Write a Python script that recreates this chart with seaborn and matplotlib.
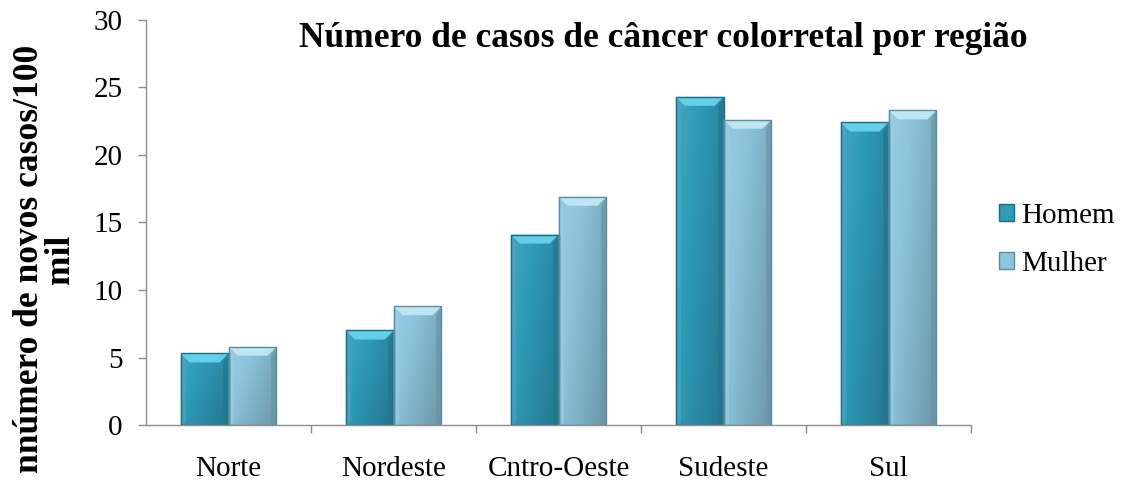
import numpy as np
import pandas as pd
import matplotlib
matplotlib.use("Agg")
import matplotlib.pyplot as plt
from matplotlib.patches import Polygon, Patch
from matplotlib.colors import to_rgb
import seaborn as sns

# Dados: casos novos de câncer colorretal por 100 mil habitantes
regioes = ["Norte", "Nordeste", "Cntro-Oeste", "Sudeste", "Sul"]
homem = [5.3, 7.0, 14.1, 24.3, 22.4]
mulher = [5.8, 8.8, 16.9, 22.6, 23.3]
series = ["Homem", "Mulher"]
y_ticks = [0, 5, 10, 15, 20, 25, 30]

df = pd.DataFrame({
    "regiao": regioes * 2,
    "sexo": ["Homem"] * len(regioes) + ["Mulher"] * len(regioes),
    "valor": homem + mulher,
})

cores = {"Homem": "#2F9CBA", "Mulher": "#8CC6DC"}
bisel = {"Homem": "#63CFE8", "Mulher": "#BDE6F2"}
bordas = {"Homem": "#1F6A7E", "Mulher": "#5F8C9C"}

sns.set_theme(style="white")
plt.rcParams["font.family"] = ["Liberation Serif", "DejaVu Serif"]
plt.rcParams["text.color"] = "black"
plt.rcParams["xtick.labelcolor"] = "black"
plt.rcParams["ytick.labelcolor"] = "black"

fig = plt.figure(figsize=(11.24, 4.83), dpi=100)
ax = fig.add_axes([0.130, 0.120, 0.734, 0.839])

sns.barplot(data=df, x="regiao", y="valor", hue="sexo", order=regioes,
            hue_order=series, palette=cores, width=0.58, saturation=1,
            edgecolor="none", linewidth=0, legend=False, ax=ax)

ax.set_xlim(-0.5, len(regioes) - 0.5)
ax.set_ylim(0, 30)
fig.canvas.draw()

# pixel -> unidades de dados
inv = ax.transData.inverted()
p0 = inv.transform((0, 0))
p1 = inv.transform((1, 1))
dx_px = p1[0] - p0[0]
dy_px = p1[1] - p0[1]


def shade(c, f):
    r = np.array(to_rgb(c))
    if f >= 0:
        return tuple(r + (1 - r) * f)
    return tuple(r * (1 + f))


patches = list(ax.patches)
n = len(regioes)
for i, p in enumerate(patches):
    nome = series[i // n]
    x0, y0 = p.get_x(), p.get_y()
    w, h = p.get_width(), p.get_height()
    base = cores[nome]
    # gradiente: mais claro à esquerda/topo, mais escuro embaixo/direita
    gx = np.linspace(0.0, 1.0, 64)
    gy = np.linspace(0.0, 1.0, 64)
    GX, GY = np.meshgrid(gx, gy)
    t = 0.10 - 0.22 * GX - 0.12 * (1 - GY)
    rgb = np.array(to_rgb(base))
    img = np.empty((64, 64, 3))
    for k in range(3):
        img[..., k] = np.where(t >= 0, rgb[k] + (1 - rgb[k]) * t, rgb[k] * (1 + t))
    im = ax.imshow(np.clip(img, 0, 1), extent=[x0, x0 + w, y0, y0 + h],
                   origin="lower", aspect="auto", zorder=2, interpolation="bilinear")
    im.set_clip_path(p)
    p.set_facecolor("none")

    bx = 9 * dx_px
    by = 9 * dy_px
    top = y0 + h
    # faixa de bisel no topo
    ax.add_patch(Polygon([(x0, top), (x0 + w, top), (x0 + w - bx, top - by),
                          (x0 + bx, top - by)], closed=True,
                         facecolor=bisel[nome], edgecolor="none", zorder=3))
    # lateral esquerda clara e direita escura
    ax.add_patch(Polygon([(x0, top), (x0 + bx * 0.6, top - by), (x0 + bx * 0.6, y0 + by * 0.3),
                          (x0, y0)], closed=True, facecolor=shade(base, 0.12),
                         edgecolor="none", alpha=0.7, zorder=3))
    ax.add_patch(Polygon([(x0 + w, top), (x0 + w - bx * 0.6, top - by),
                          (x0 + w - bx * 0.6, y0 + by * 0.3), (x0 + w, y0)], closed=True,
                         facecolor=shade(base, -0.25), edgecolor="none", alpha=0.7, zorder=3))
    # contorno
    ax.add_patch(Polygon([(x0, y0), (x0, top), (x0 + w, top), (x0 + w, y0)], closed=True,
                         facecolor="none", edgecolor=bordas[nome], linewidth=1.0, zorder=4))

# eixos
for s in ["top", "right"]:
    ax.spines[s].set_visible(False)
for s in ["left", "bottom"]:
    ax.spines[s].set_color("#8E8E8E")
    ax.spines[s].set_linewidth(1.0)
    ax.spines[s].set_zorder(5)

ax.set_yticks(y_ticks)
ax.set_yticklabels([str(v) for v in y_ticks], fontsize=21)
ax.tick_params(axis="y", which="major", direction="out", length=6, width=1,
               color="#8E8E8E", left=True, pad=11, labelcolor="black")
ax.set_xticks(range(n))
ax.set_xticklabels(regioes, fontsize=21)
ax.set_xticks(np.arange(n) + 0.5, minor=True)
ax.tick_params(axis="x", which="major", length=0, pad=22, labelcolor="black")
ax.tick_params(axis="x", which="minor", direction="out", length=6, width=1,
               color="#8E8E8E", bottom=True)
ax.grid(False)
ax.set_xlabel("")
ax.set_ylabel("")

fig.text(0.040, 0.464, "nnúmero de novos casos/100\nmil", rotation=90,
         ha="center", va="center", multialignment="center", color="black",
         fontsize=25.5, fontweight="bold", linespacing=0.95)

fig.text(0.590, 0.903, "Número de casos de câncer colorretal por região",
         ha="center", va="baseline", fontsize=25.5, fontweight="bold", color="black")

handles = [Patch(facecolor=cores[s], edgecolor=bordas[s], linewidth=1.0) for s in series]
leg = fig.legend(handles, series, loc="center left", bbox_to_anchor=(0.889, 0.503),
                 frameon=False, fontsize=21, handlelength=0.5, handleheight=0.5,
                 handletextpad=0.25, labelspacing=0.75, borderpad=0, borderaxespad=0,
                 labelcolor="black")

fig.savefig("out.png", dpi=100)
